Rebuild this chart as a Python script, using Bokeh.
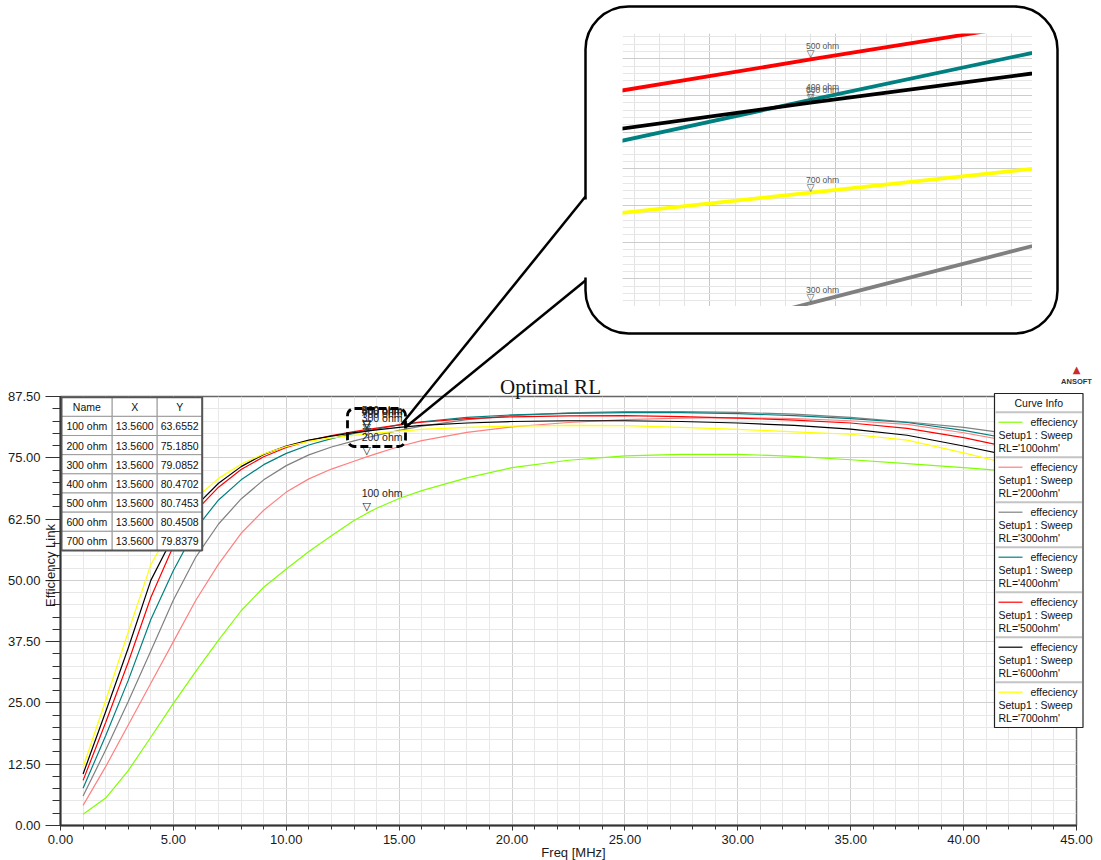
import math
from bokeh.plotting import figure
from bokeh.models import (Range1d, FixedTicker, PrintfTickFormatter, Label,
                          BoxAnnotation, Arrow, Grid, GridBox)
from bokeh.core.properties import value
from bokeh.embed import file_html
from bokeh.resources import INLINE

# ---------------- data ----------------
freq = [1, 2, 3, 4, 5, 6, 7, 8, 9, 10, 11, 12, 13, 13.56, 14, 15, 16, 18, 20,
        22.5, 25, 27.5, 30, 32.5, 35, 37.5, 40, 42.5, 45]
eff_100ohm = [2.3, 5.6, 11.2, 18.0, 24.9, 31.5, 37.8, 43.8, 48.6, 52.3, 55.9, 59.1, 62.2, 63.6552,
              64.7, 66.7, 68.3, 70.9, 73.0, 74.5, 75.4, 75.7, 75.7, 75.3, 74.6, 73.8, 73.0, 72.1, 71.0]
eff_200ohm = [4.1, 12.0, 20.5, 29.0, 37.5, 46.0, 53.3, 59.6, 64.3, 68.0, 70.7, 72.7, 74.3, 75.1850,
              75.85, 77.3, 78.5, 80.2, 81.3, 82.2, 82.8, 83.1, 83.2, 83.0, 82.55, 81.8, 80.1, 78.0, 75.2]
eff_300ohm = [6.0, 15.4, 25.3, 35.6, 46.0, 54.8, 61.5, 66.6, 70.5, 73.4, 75.6, 77.2, 78.45, 79.0852,
              79.57, 80.6, 81.45, 82.8, 83.6, 84.15, 84.4, 84.4, 84.25, 83.9, 83.25, 82.3, 81.2, 79.6, 77.2]
eff_400ohm = [7.6, 18.3, 29.6, 42.0, 52.0, 60.6, 66.4, 70.5, 73.6, 75.9, 77.6, 78.9, 79.95, 80.4702,
              80.87, 81.7, 82.35, 83.25, 83.75, 84.05, 84.2, 84.2, 84.0, 83.6, 83.0, 82.2, 80.6, 78.5, 75.5]
eff_500ohm = [9.2, 21.0, 33.3, 46.5, 57.0, 64.2, 69.0, 72.6, 75.2, 77.1, 78.5, 79.55, 80.35, 80.7453,
              81.05, 81.7, 82.25, 83.0, 83.35, 83.55, 83.6, 83.4, 83.1, 82.7, 82.1, 81.0, 79.1, 76.7, 73.5]
eff_600ohm = [10.5, 23.2, 36.2, 50.0, 59.0, 65.2, 69.8, 73.2, 75.7, 77.4, 78.6, 79.4, 80.12, 80.4508,
              80.70, 81.2, 81.6, 82.1, 82.4, 82.55, 82.55, 82.4, 82.1, 81.6, 80.85, 79.6, 77.4, 75.0, 71.5]
eff_700ohm = [11.9, 25.5, 39.5, 53.2, 61.5, 66.8, 70.8, 73.7, 75.8, 77.3, 78.35, 79.05, 79.58, 79.8379,
              80.04, 80.45, 80.8, 81.2, 81.45, 81.6, 81.55, 81.2, 80.8, 80.3, 79.8, 78.6, 76.0, 73.2, 69.5]

series = [eff_100ohm, eff_200ohm, eff_300ohm, eff_400ohm, eff_500ohm, eff_600ohm, eff_700ohm]
marker_names = ["100 ohm", "200 ohm", "300 ohm", "400 ohm", "500 ohm", "600 ohm", "700 ohm"]
legend_rl = ["RL='100ohm'", "RL='200ohm'", "RL='300ohm'", "RL='400ohm'",
             "RL='500ohm'", "RL='600ohm'", "RL='700ohm'"]
colors = ["#80ff00", "#ff8080", "#808080", "#008080", "#ff0000", "#000000", "#ffff00"]
marker_freq = 13.56
marker_vals = [63.6552, 75.1850, 79.0852, 80.4702, 80.7453, 80.4508, 79.8379]
table_x = ["13.5600"] * 7
table_y = ["63.6552", "75.1850", "79.0852", "80.4702", "80.7453", "80.4508", "79.8379"]
x_major = [0, 5, 10, 15, 20, 25, 30, 35, 40, 45]
y_major = [0, 12.5, 25, 37.5, 50, 62.5, 75, 87.5]

# ---------------- geometry ----------------
W, H = 1101, 860
FL, FR, FT, FB = 60, 1076, 396, 825
XR = (0, 45)
YR = (0, 87.5)
SANS = "Liberation Sans"


def fx(px):
    return XR[0] + (px - FL) * (XR[1] - XR[0]) / (FR - FL)


def fy(py):
    return YR[0] + (FB - py) * (YR[1] - YR[0]) / (FB - FT)


def no_align(fig):
    try:
        fig.frame_align = False
    except Exception:
        pass


# ================= main plot =================
p = figure(width=W, height=H, x_range=Range1d(*XR), y_range=Range1d(*YR),
           output_backend="svg", toolbar_location=None,
           min_border_left=FL, min_border_right=W - FR,
           min_border_top=FT, min_border_bottom=H - FB,
           background_fill_color="white", border_fill_color="white")
no_align(p)
p.outline_line_color = "#666666"
p.outline_line_width = 1.5

p.xaxis.ticker = FixedTicker(ticks=x_major, minor_ticks=list(range(0, 46)))
p.yaxis.ticker = FixedTicker(ticks=y_major, minor_ticks=[i * 2.5 for i in range(36)])
p.xaxis.formatter = PrintfTickFormatter(format="%.2f")
p.yaxis.formatter = PrintfTickFormatter(format="%.2f")
for ax in (p.xaxis, p.yaxis):
    ax.axis_line_color = "#333333"
    ax.axis_line_width = 2
    ax.major_tick_line_color = "#333333"
    ax.minor_tick_line_color = "#333333"
    ax.major_tick_in = 0
    ax.minor_tick_in = 0
    ax.major_label_text_font = SANS
    ax.major_label_text_font_size = "13px"
    ax.major_label_text_color = "#1a1a1a"
p.yaxis.major_tick_out = 15
p.yaxis.minor_tick_out = 8
p.yaxis.major_label_standoff = 5
p.xaxis.major_tick_out = 5
p.xaxis.minor_tick_out = 4
p.xaxis.major_label_standoff = 4

p.xgrid.grid_line_color = "#d0d0d0"
p.ygrid.grid_line_color = "#d0d0d0"
p.xgrid.minor_grid_line_color = "#e8e8e8"
p.ygrid.minor_grid_line_color = "#e8e8e8"

for vals, c in zip(series, colors):
    p.line(freq, vals, line_color=c, line_width=1.2)

# markers at 13.56 MHz
p.text(x=[marker_freq] * 7, y=marker_vals, text=["\u25bd"] * 7, text_align="center",
       text_baseline="bottom", text_font=value("DejaVu Sans"), text_font_size="11px",
       text_color="#222222")
p.text(x=[marker_freq] * 7, y=marker_vals, text=marker_names, text_align="left",
       text_baseline="bottom", x_offset=-5, y_offset=-14, text_font=value(SANS),
       text_font_size="10.5px", text_color="#222222")

# dashed selection box
p.add_layout(BoxAnnotation(left=fx(347), right=fx(405), top=fy(408), bottom=fy(446),
                           fill_color=None, line_color="black", line_alpha=1,
                           line_width=2.8, line_dash="8 4", border_radius=7))

# marker table
col_edges = [61, 111.7, 156.7, 201.7]
TT, RH = 396.7, 19.16
rows_text = [["Name", "X", "Y"]] + [[marker_names[i], table_x[i], table_y[i]] for i in range(7)]
for r, row in enumerate(rows_text):
    t = TT + r * RH
    for c in range(3):
        p.add_layout(BoxAnnotation(left=fx(col_edges[c]), right=fx(col_edges[c + 1]),
                                   top=fy(t), bottom=fy(t + RH), fill_color="white",
                                   fill_alpha=1, line_color="#9a9a9a", line_alpha=1,
                                   line_width=1))
        p.add_layout(Label(x=fx((col_edges[c] + col_edges[c + 1]) / 2), y=fy(t + RH / 2 + 0.5),
                           text=row[c], text_align="center", text_baseline="middle",
                           text_font=SANS, text_font_size="10.5px", text_color="#111111"))
p.add_layout(BoxAnnotation(left=fx(col_edges[0]), right=fx(col_edges[-1]), top=fy(TT),
                           bottom=fy(TT + 8 * RH), fill_color=None, line_color="#555555",
                           line_alpha=1, line_width=2))

# ================= inset (zoomed view around 13.56 MHz) =================
inset_x = (13.2612, 13.9127)
inset_y = (79.0616, 80.9225)
inset = figure(width=410, height=273, x_range=Range1d(*inset_x), y_range=Range1d(*inset_y),
               output_backend="svg", toolbar_location=None, x_axis_location=None,
               y_axis_location=None, min_border=0, background_fill_color="white",
               border_fill_color=None, outline_line_color=None)
no_align(inset)
inset.xgrid.visible = False
inset.ygrid.visible = False
inset.add_layout(Grid(dimension=0,
                      ticker=FixedTicker(ticks=[13.4, 13.6, 13.8],
                                         minor_ticks=[13.28 + 0.04 * k for k in range(16)]),
                      grid_line_color="#c8c8c8", minor_grid_line_color="#e3e3e3"))
inset.add_layout(Grid(dimension=1,
                      ticker=FixedTicker(ticks=[79.25, 79.5, 79.75, 80.0, 80.25, 80.5, 80.75],
                                         minor_ticks=[79.05 + 0.05 * k for k in range(38)]),
                      grid_line_color="#cccccc", minor_grid_line_color="#e6e6e6"))
for vals, c in zip(series, colors):
    inset.line(freq, vals, line_color=c, line_width=3.8)
vis = [i for i, v in enumerate(marker_vals) if inset_y[0] < v < inset_y[1]]
inset.text(x=[marker_freq] * len(vis), y=[marker_vals[i] for i in vis],
           text=["\u25bd"] * len(vis), text_align="center", text_baseline="bottom",
           text_font=value("DejaVu Sans"), text_font_size="10px", text_color="#444444")
inset.text(x=[marker_freq] * len(vis), y=[marker_vals[i] for i in vis],
           text=[marker_names[i] for i in vis], text_align="left", text_baseline="bottom",
           x_offset=-4.5, y_offset=-8, text_font=value(SANS), text_font_size="8.5px",
           text_color="#555555")

# ================= overlay (page decorations in pixel space) =================
o = figure(width=W, height=H, x_range=Range1d(0, W), y_range=Range1d(0, H),
           output_backend="svg", toolbar_location=None, x_axis_location=None,
           y_axis_location=None, min_border=0, background_fill_color=None,
           border_fill_color=None, outline_line_color=None)
no_align(o)
o.xgrid.visible = False
o.ygrid.visible = False


def Y(py):
    return H - py


def seg(x0, y0, x1, y1, color, width):
    o.add_layout(Arrow(x_start=x0, y_start=Y(y0), x_end=x1, y_end=Y(y1), end=None,
                       line_color=color, line_width=width))


def lab(x, y, text, size, align="left", baseline="middle", font=SANS, color="#111111",
        angle=0.0, style="normal"):
    o.add_layout(Label(x=x, y=Y(y), text=text, text_align=align, text_baseline=baseline,
                       text_font=font, text_font_size=size, text_color=color, angle=angle,
                       text_font_style=style))


# callout bubble and its tail
o.add_layout(BoxAnnotation(left=585, right=1057, top=Y(6), bottom=Y(333), fill_color=None,
                           line_color="black", line_alpha=1, line_width=2.5, border_radius=43))
seg(585, 199, 585, 277, "white", 6)
seg(401, 424, 585, 196, "black", 2.5)
seg(406, 426, 585, 280, "black", 2.5)

# title, axis labels, logo
lab(550, 386.5, "Optimal RL", "21px", align="center", baseline="alphabetic",
    font="Liberation Serif")
lab(573, 852, "Freq [MHz]", "13px", align="center", color="#1a1a1a")
lab(50, 565, "Efficiency Link", "13px", align="center", color="#1a1a1a", angle=math.pi / 2)
lab(1076, 369, "\u25b2", "10px", align="center", font="DejaVu Sans", color="#cc2a2a")
lab(1076, 381, "ANSOFT", "7.5px", align="center", color="#333333", style="bold")

# legend "Curve Info"
LL, LR, LT, LB = 994, 1082.5, 393, 727
o.add_layout(BoxAnnotation(left=LL, right=LR, top=Y(LT), bottom=Y(LB), fill_color="white",
                           fill_alpha=1, line_color="#222222", line_alpha=1, line_width=1.2))
lab((LL + LR) / 2, 402.5, "Curve Info", "10.5px", align="center")
for i in range(7):
    top = 411.7 + 45 * i
    seg(LL + 1, top, LR - 1, top, "#c4c4c4", 2)
    seg(998, top + 10, 1022, top + 10, colors[i], 1.2)
    lab(1077, top + 10, "effeciency", "10.5px", align="right")
    lab(998, top + 23, "Setup1 : Sweep", "10.5px")
    lab(998, top + 36, legend_rl[i], "10.5px")

try:
    layout = GridBox(children=[(p, 0, 0, 3, 3), (inset, 1, 1), (o, 0, 0, 3, 3)],
                     rows=["33px", "273px", "554px"], cols=["622px", "410px", "69px"])
except Exception:
    layout = GridBox(children=[(p, 0, 0, 3, 3), (inset, 1, 1), (o, 0, 0, 3, 3)],
                     rows=[33, 273, 554], cols=[622, 410, 69])

open("out.html", "w").write(file_html(layout, INLINE))
